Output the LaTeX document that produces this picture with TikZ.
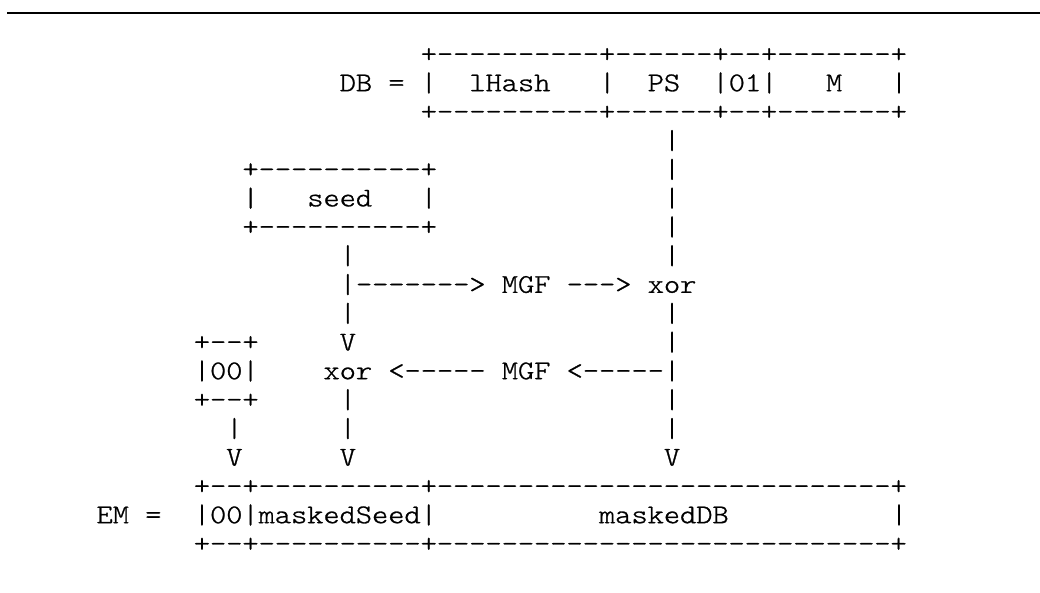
\documentclass[tikz,border=0pt]{standalone}
\usepackage{fontspec}
\setmonofont{lmmonolt10-regular.otf}[FakeStretch=1.143,FakeBold=1]
\newcommand\cw{16.21}
\newcommand\xo{96.6}
\newcommand\asciiseg[4]{\node[txt] (#1) at ({\xo+#2*\cw},{120+(#3-3)*28.8}) {#4};}
\begin{document}
\begin{tikzpicture}[x=1pt,y=-1pt,
  txt/.style={anchor=base west,inner sep=0pt,outer sep=0pt,
    font=\ttfamily\fontsize{27}{29}\selectfont}]
\useasboundingbox (0,0) rectangle (1040,592);
\coordinate (ruleL) at (7,12.5);
\coordinate (ruleR) at (1040,12.5);
\draw[line width=2pt] (ruleL) -- (ruleR);
% row 1-3 : DB
\asciiseg{dbtop}{20}{1}{+----------+------+--+-------+}
\asciiseg{dblab}{15}{2}{DB}
\asciiseg{dbeq}{18}{2}{=}
\asciiseg{dbb1}{20}{2}{|}
\asciiseg{lhash}{23}{2}{lHash}
\asciiseg{dbb2}{31}{2}{|}
\asciiseg{ps}{34}{2}{PS}
\asciiseg{zo}{38}{2}{|01|}
\asciiseg{m}{45}{2}{M}
\asciiseg{dbb3}{49}{2}{|}
\asciiseg{dbbot}{20}{3}{+----------+------+--+-------+}
% right column
\asciiseg{rv4}{35}{4}{|}
\asciiseg{rv5}{35}{5}{|}
\asciiseg{rv6}{35}{6}{|}
\asciiseg{rv7}{35}{7}{|}
\asciiseg{rv8}{35}{8}{|}
% seed
\asciiseg{seedtop}{9}{5}{+----------+}
\asciiseg{seedl}{9}{6}{|}
\asciiseg{seed}{13}{6}{seed}
\asciiseg{seedr}{20}{6}{|}
\asciiseg{seedbot}{9}{7}{+----------+}
\asciiseg{mv8}{15}{8}{|}
% row 9
\asciiseg{ar1}{15}{9}{|------->}
\asciiseg{mgf1}{25}{9}{MGF}
\asciiseg{ar2}{29}{9}{--->}
\asciiseg{xor1}{34}{9}{xor}
% row 10-11
\asciiseg{mv10}{15}{10}{|}
\asciiseg{rv10}{35}{10}{|}
\asciiseg{zztop}{6}{11}{+--+}
\asciiseg{mV11}{15}{11}{V}
\asciiseg{rv11}{35}{11}{|}
% row 12
\asciiseg{zz}{6}{12}{|00|}
\asciiseg{xor2}{14}{12}{xor}
\asciiseg{ar3}{18}{12}{<-----}
\asciiseg{mgf2}{25}{12}{MGF}
\asciiseg{ar4}{29}{12}{<-----|}
% row 13-15
\asciiseg{zzbot}{6}{13}{+--+}
\asciiseg{mv13}{15}{13}{|}
\asciiseg{rv13}{35}{13}{|}
\asciiseg{lv14}{8}{14}{|}
\asciiseg{mv14}{15}{14}{|}
\asciiseg{rv14}{35}{14}{|}
\asciiseg{lV15}{8}{15}{V}
\asciiseg{mV15}{15}{15}{V}
\asciiseg{rV15}{35}{15}{V}
% EM
\asciiseg{emtop}{6}{16}{+--+----------+----------------------------+}
\asciiseg{emlab}{0}{17}{EM}
\asciiseg{emeq}{3}{17}{=}
\asciiseg{emrow}{6}{17}{|00|maskedSeed|}
\asciiseg{mdb}{31}{17}{maskedDB}
\asciiseg{emr}{49}{17}{|}
\asciiseg{embot}{6}{18}{+--+----------+----------------------------+}
\end{tikzpicture}
\end{document}
